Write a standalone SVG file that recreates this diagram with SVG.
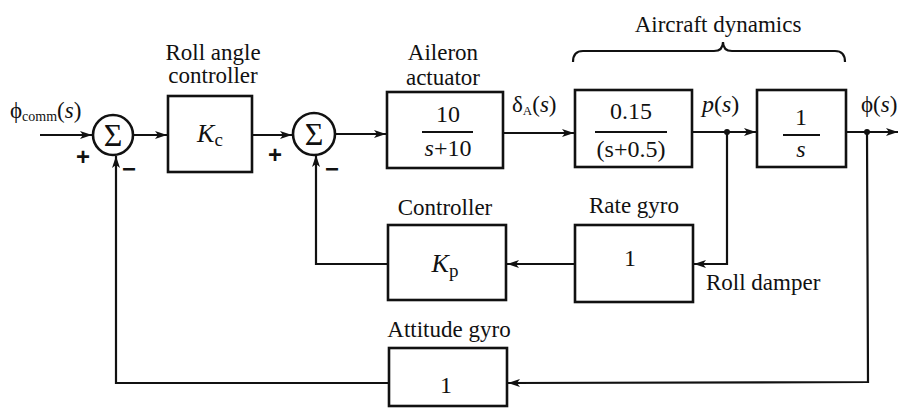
<svg xmlns="http://www.w3.org/2000/svg" width="898" height="408" viewBox="0 0 898 408">
<style>
text { font-family: "Liberation Serif", "DejaVu Serif", serif; font-size: 23px; fill: #111; }
.c { text-anchor: middle; }
.it { font-style: italic; }
.m { font-size: 24px; }
.sg { font-size: 32px; }
.box { fill: #fff; stroke: #111; stroke-width: 2.6; }
.sum { fill: #fff; stroke: #111; stroke-width: 2.6; }
.ln { fill: none; stroke: #111; stroke-width: 2.2; }
.frac { stroke: #111; stroke-width: 1.8; }
.sign { font-family: "Liberation Sans", "DejaVu Sans", sans-serif; font-size: 24px; font-weight: bold; }
</style>
<defs>
<marker id="ah" viewBox="0 0 12 8" refX="12" refY="4" markerWidth="12" markerHeight="8" markerUnits="userSpaceOnUse" orient="auto">
<path d="M0,0 L12,4 L0,8 L3,4 Z" fill="#111"/>
</marker>
</defs>

<g id="connectors">
<line class="ln" x1="40" y1="135" x2="92" y2="135" marker-end="url(#ah)"/>
<line class="ln" x1="133" y1="135" x2="167" y2="135" marker-end="url(#ah)"/>
<line class="ln" x1="252" y1="135" x2="292" y2="135" marker-end="url(#ah)"/>
<line class="ln" x1="335" y1="134" x2="386" y2="134" marker-end="url(#ah)"/>
<line class="ln" x1="503" y1="133" x2="574" y2="133" marker-end="url(#ah)"/>
<line class="ln" x1="692" y1="132" x2="756" y2="132" marker-end="url(#ah)"/>
<line class="ln" x1="846" y1="132" x2="898" y2="132" marker-end="url(#ah)"/>
<circle cx="727" cy="132" r="3" fill="#111"/>
<circle cx="867" cy="132" r="3" fill="#111"/>
<polyline class="ln" points="727,132 727,264 694,264" marker-end="url(#ah)"/>
<line class="ln" x1="575" y1="264" x2="507" y2="264" marker-end="url(#ah)"/>
<polyline class="ln" points="388,264 316,264 316,155" marker-end="url(#ah)"/>
<polyline class="ln" points="867,132 868,382 508,383" marker-end="url(#ah)"/>
<polyline class="ln" points="389,383 116,383 116,156" marker-end="url(#ah)"/>
<path class="ln" d="M573,62 Q573,51 583,51 L714,51 Q723,51 723,42 Q723,51 732,51 L835,51 Q845,51 845,62"/>
</g>

<g id="input-label">
<text x="10" y="118">ϕ<tspan font-size="14" dy="3">comm</tspan><tspan dy="-3">(</tspan><tspan class="it">s</tspan>)</text>
</g>

<g id="sum1">
<circle class="sum" cx="113" cy="135" r="20"/>
<text class="c sg" x="113" y="146">Σ</text>
<text class="sign c" x="83" y="165">+</text>
<text class="sign c" x="129" y="177">−</text>
</g>

<g id="roll-angle-controller">
<text class="c" x="213" y="60">Roll angle</text>
<text class="c" x="213" y="83">controller</text>
<rect class="box" x="168" y="96" width="84" height="76"/>
<text class="c" x="210" y="142"><tspan class="it" font-size="26">K</tspan><tspan font-size="19" dy="4">c</tspan></text>
</g>

<g id="sum2">
<circle class="sum" cx="314" cy="134" r="21"/>
<text class="c sg" x="314" y="145">Σ</text>
<text class="sign c" x="275" y="163">+</text>
<text class="sign c" x="332" y="177">−</text>
</g>

<g id="aileron-actuator">
<text class="c" x="443" y="60">Aileron</text>
<text class="c" x="443" y="85">actuator</text>
<rect class="box" x="387" y="92" width="116" height="76"/>
<text class="c m" x="448" y="122">10</text>
<line class="frac" x1="422" y1="132" x2="473" y2="132"/>
<text class="c m" x="448" y="156"><tspan class="it">s</tspan>+10</text>
</g>

<text x="512" y="112">δ<tspan font-size="13" dy="3">A</tspan><tspan dy="-3">(</tspan><tspan class="it">s</tspan>)</text>

<g id="aircraft-dynamics-label">
<text class="c" x="718" y="32">Aircraft dynamics</text>
</g>

<g id="roll-dynamics">
<rect class="box" x="575" y="90" width="117" height="77"/>
<text class="c m" x="631" y="119">0.15</text>
<line class="frac" x1="595" y1="132" x2="667" y2="132"/>
<text class="c m" x="631" y="157">(s+0.5)</text>
</g>

<text x="702" y="112" class="m"><tspan class="it">p</tspan>(<tspan class="it">s</tspan>)</text>

<g id="integrator">
<rect class="box" x="757" y="90" width="89" height="77"/>
<text class="c m" x="801" y="125">1</text>
<line class="frac" x1="783" y1="135" x2="820" y2="135"/>
<text class="c it m" x="801" y="157">s</text>
</g>

<text x="861" y="112" font-size="18">ϕ(<tspan class="it">s</tspan>)</text>

<g id="controller">
<text class="c" x="445" y="215">Controller</text>
<rect class="box" x="388" y="225" width="118" height="75"/>
<text class="c" x="445" y="272"><tspan class="it" font-size="26">K</tspan><tspan font-size="19" dy="5">p</tspan></text>
</g>

<g id="rate-gyro">
<text class="c" x="634" y="213">Rate gyro</text>
<rect class="box" x="575" y="225" width="118" height="77"/>
<text class="c m" x="630" y="266">1</text>
<text x="706" y="290">Roll damper</text>
</g>

<g id="attitude-gyro">
<text class="c" x="449" y="337">Attitude gyro</text>
<rect class="box" x="389" y="348" width="118" height="58"/>
<text class="c m" x="446" y="393">1</text>
</g>
</svg>
